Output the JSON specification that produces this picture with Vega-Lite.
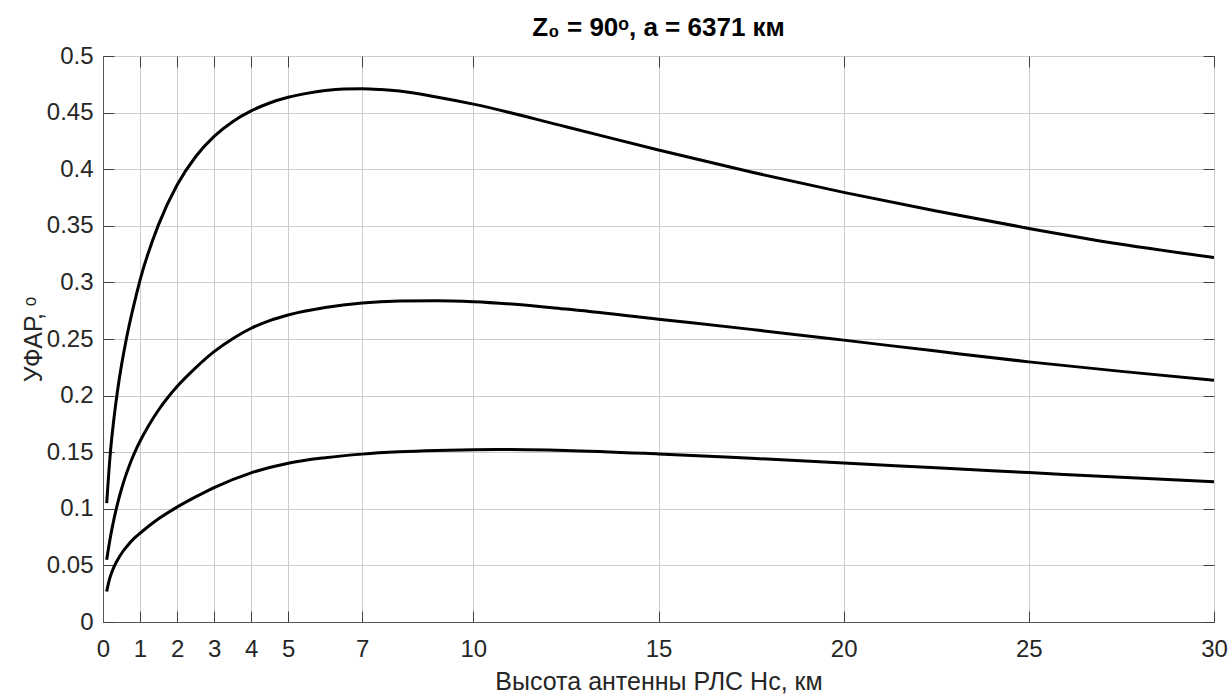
{
  "$schema": "https://vega.github.io/schema/vega-lite/v6.json",
  "width": 1111,
  "height": 566,
  "autosize": {"type": "none"},
  "padding": {"left": 103, "top": 56, "right": 16, "bottom": 75},
  "background": "white",
  "config": {
    "font": "Liberation Sans",
    "view": {"stroke": "#555555", "strokeWidth": 1},
    "axis": {
      "labelFont": "Liberation Sans",
      "titleFont": "Liberation Sans",
      "labelColor": "#262626",
      "titleColor": "#262626",
      "labelFontSize": 24,
      "titleFontSize": 25,
      "titleFontWeight": "normal",
      "gridColor": "#cccccc",
      "gridWidth": 1,
      "domainColor": "#555555",
      "tickColor": "#404040",
      "tickSize": -11,
      "tickWidth": 1
    }
  },
  "title": {
    "text": "Z₀ = 90ᵒ, a = 6371 км",
    "fontSize": 26,
    "fontWeight": "bold",
    "color": "#000000",
    "font": "Liberation Sans",
    "offset": 3,
    "anchor": "middle"
  },
  "data": {
    "values": [
      {"h": 0.1, "v": 0.105, "s": "a"},
      {"h": 0.2, "v": 0.150, "s": "a"},
      {"h": 0.3, "v": 0.181, "s": "a"},
      {"h": 0.4, "v": 0.206, "s": "a"},
      {"h": 0.5, "v": 0.227, "s": "a"},
      {"h": 0.6, "v": 0.245, "s": "a"},
      {"h": 0.7, "v": 0.261, "s": "a"},
      {"h": 0.8, "v": 0.2755, "s": "a"},
      {"h": 0.9, "v": 0.289, "s": "a"},
      {"h": 1.0, "v": 0.302, "s": "a"},
      {"h": 1.5, "v": 0.351, "s": "a"},
      {"h": 2.0, "v": 0.386, "s": "a"},
      {"h": 2.5, "v": 0.411, "s": "a"},
      {"h": 3.0, "v": 0.429, "s": "a"},
      {"h": 3.5, "v": 0.442, "s": "a"},
      {"h": 4.0, "v": 0.4515, "s": "a"},
      {"h": 4.5, "v": 0.4585, "s": "a"},
      {"h": 5.0, "v": 0.4635, "s": "a"},
      {"h": 5.5, "v": 0.467, "s": "a"},
      {"h": 6.0, "v": 0.4695, "s": "a"},
      {"h": 6.5, "v": 0.4708, "s": "a"},
      {"h": 7.0, "v": 0.471, "s": "a"},
      {"h": 7.5, "v": 0.4703, "s": "a"},
      {"h": 8.0, "v": 0.469, "s": "a"},
      {"h": 9.0, "v": 0.4638, "s": "a"},
      {"h": 10.0, "v": 0.4575, "s": "a"},
      {"h": 12.5, "v": 0.4375, "s": "a"},
      {"h": 15.0, "v": 0.417, "s": "a"},
      {"h": 17.5, "v": 0.3975, "s": "a"},
      {"h": 20.0, "v": 0.3795, "s": "a"},
      {"h": 22.5, "v": 0.363, "s": "a"},
      {"h": 25.0, "v": 0.3477, "s": "a"},
      {"h": 27.5, "v": 0.3337, "s": "a"},
      {"h": 30.0, "v": 0.322, "s": "a"},
      {"h": 0.1, "v": 0.055, "s": "b"},
      {"h": 0.2, "v": 0.075, "s": "b"},
      {"h": 0.3, "v": 0.0915, "s": "b"},
      {"h": 0.4, "v": 0.1055, "s": "b"},
      {"h": 0.5, "v": 0.1175, "s": "b"},
      {"h": 0.6, "v": 0.128, "s": "b"},
      {"h": 0.7, "v": 0.1372, "s": "b"},
      {"h": 0.8, "v": 0.1455, "s": "b"},
      {"h": 0.9, "v": 0.153, "s": "b"},
      {"h": 1.0, "v": 0.1597, "s": "b"},
      {"h": 1.25, "v": 0.1745, "s": "b"},
      {"h": 1.5, "v": 0.1873, "s": "b"},
      {"h": 1.75, "v": 0.1983, "s": "b"},
      {"h": 2.0, "v": 0.208, "s": "b"},
      {"h": 2.5, "v": 0.2245, "s": "b"},
      {"h": 3.0, "v": 0.2388, "s": "b"},
      {"h": 3.5, "v": 0.2502, "s": "b"},
      {"h": 4.0, "v": 0.2595, "s": "b"},
      {"h": 4.5, "v": 0.2662, "s": "b"},
      {"h": 5.0, "v": 0.2712, "s": "b"},
      {"h": 6.0, "v": 0.2778, "s": "b"},
      {"h": 7.0, "v": 0.2818, "s": "b"},
      {"h": 8.0, "v": 0.2835, "s": "b"},
      {"h": 9.0, "v": 0.2838, "s": "b"},
      {"h": 10.0, "v": 0.2830, "s": "b"},
      {"h": 12.5, "v": 0.2765, "s": "b"},
      {"h": 15.0, "v": 0.2675, "s": "b"},
      {"h": 17.5, "v": 0.2585, "s": "b"},
      {"h": 20.0, "v": 0.249, "s": "b"},
      {"h": 22.5, "v": 0.2393, "s": "b"},
      {"h": 25.0, "v": 0.2298, "s": "b"},
      {"h": 27.5, "v": 0.2214, "s": "b"},
      {"h": 30.0, "v": 0.2136, "s": "b"},
      {"h": 0.1, "v": 0.027, "s": "c"},
      {"h": 0.15, "v": 0.0345, "s": "c"},
      {"h": 0.2, "v": 0.0405, "s": "c"},
      {"h": 0.3, "v": 0.049, "s": "c"},
      {"h": 0.4, "v": 0.0553, "s": "c"},
      {"h": 0.5, "v": 0.0605, "s": "c"},
      {"h": 0.6, "v": 0.065, "s": "c"},
      {"h": 0.7, "v": 0.069, "s": "c"},
      {"h": 0.8, "v": 0.0725, "s": "c"},
      {"h": 0.9, "v": 0.0756, "s": "c"},
      {"h": 1.0, "v": 0.0784, "s": "c"},
      {"h": 1.5, "v": 0.0912, "s": "c"},
      {"h": 2.0, "v": 0.1015, "s": "c"},
      {"h": 2.5, "v": 0.1105, "s": "c"},
      {"h": 3.0, "v": 0.1188, "s": "c"},
      {"h": 4.0, "v": 0.1318, "s": "c"},
      {"h": 5.0, "v": 0.1403, "s": "c"},
      {"h": 6.0, "v": 0.1451, "s": "c"},
      {"h": 7.0, "v": 0.1483, "s": "c"},
      {"h": 8.0, "v": 0.1503, "s": "c"},
      {"h": 9.0, "v": 0.1515, "s": "c"},
      {"h": 10.0, "v": 0.1522, "s": "c"},
      {"h": 11.0, "v": 0.1524, "s": "c"},
      {"h": 12.5, "v": 0.1516, "s": "c"},
      {"h": 15.0, "v": 0.1485, "s": "c"},
      {"h": 17.5, "v": 0.1446, "s": "c"},
      {"h": 20.0, "v": 0.1405, "s": "c"},
      {"h": 22.5, "v": 0.1362, "s": "c"},
      {"h": 25.0, "v": 0.132, "s": "c"},
      {"h": 27.5, "v": 0.1278, "s": "c"},
      {"h": 30.0, "v": 0.1238, "s": "c"}
    ]
  },
  "layer": [
    {
      "mark": {"type": "line", "color": "#000000", "strokeWidth": 3, "interpolate": "monotone", "clip": true},
      "encoding": {
        "x": {
          "field": "h", "type": "quantitative",
          "scale": {"domain": [0, 30], "nice": false, "zero": false},
          "axis": {
            "values": [0, 1, 2, 3, 4, 5, 7, 10, 15, 20, 25, 30],
            "title": "Высота антенны РЛС Hc, км",
            "titlePadding": 8,
            "labelPadding": 26,
            "grid": true,
            "labelFlush": false,
            "labelOverlap": false
          }
        },
        "y": {
          "field": "v", "type": "quantitative",
          "scale": {"domain": [0, 0.5], "nice": false},
          "axis": {
            "values": [0, 0.05, 0.1, 0.15, 0.2, 0.25, 0.3, 0.35, 0.4, 0.45, 0.5],
            "format": ".2~f",
            "title": "УФАР, ᵒ",
            "titlePadding": 0,
            "labelPadding": 21,
            "grid": true,
            "labelFlush": false,
            "labelOverlap": false
          }
        },
        "detail": {"field": "s"}
      }
    },
    {
      "mark": {"type": "line", "strokeOpacity": 0},
      "encoding": {
        "x": {
          "field": "h", "type": "quantitative",
          "axis": {
            "orient": "top",
            "values": [0, 1, 2, 3, 4, 5, 7, 10, 15, 20, 25, 30],
            "labels": false, "title": null, "grid": false, "domain": false
          }
        },
        "y": {
          "field": "v", "type": "quantitative",
          "axis": {
            "orient": "right",
            "values": [0, 0.05, 0.1, 0.15, 0.2, 0.25, 0.3, 0.35, 0.4, 0.45, 0.5],
            "labels": false, "title": null, "grid": false, "domain": false
          }
        },
        "detail": {"field": "s"}
      }
    }
  ],
  "resolve": {"axis": {"x": "independent", "y": "independent"}}
}
